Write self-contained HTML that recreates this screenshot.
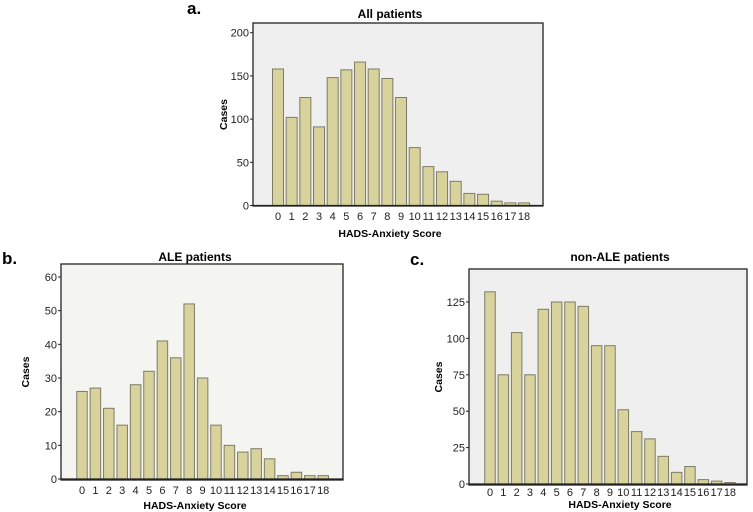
<!DOCTYPE html>
<html><head><meta charset="utf-8"><style>
body{margin:0;background:#fff;width:753px;height:512px;overflow:hidden;font-family:"Liberation Sans",Arial,sans-serif}
svg{position:absolute;left:0;top:0}
</style></head><body>
<svg id="s" width="753" height="512" xmlns="http://www.w3.org/2000/svg"></svg>
<script>
const categories=["0","1","2","3","4","5","6","7","8","9","10","11","12","13","14","15","16","17","18"];
const allValues=[158,102,125,91,148,157,166,158,147,125,67,45,39,28,14,13,5,3,3];
const aleValues=[26,27,21,16,28,32,41,36,52,30,16,10,8,9,6,1,2,1,1];
const nonAleValues=[132,75,104,75,120,125,125,122,95,95,51,36,31,19,8,12,3,2,1];
const allTicks=[0,50,100,150,200];
const aleTicks=[0,10,20,30,40,50,60];
const nonAleTicks=[0,25,50,75,100,125];
const NS="http://www.w3.org/2000/svg";
const svg=document.getElementById('s');
function mk(tag,attrs,parent){const e=document.createElementNS(NS,tag);for(const k in attrs)e.setAttribute(k,attrs[k]);(parent||svg).appendChild(e);return e;}
function txt(str,attrs,parent){const t=mk('text',attrs,parent);t.textContent=str;return t;}
function chart(o){
  const g=mk('g',{});
  
  
  const y=v=>o.y0-(v-0)*(o.y0-o.yRefPx)/o.yRef;
  const x=i=>o.x0+i*o.dx;
  const bg=mk('rect',{x:o.L,y:o.T,width:o.R-o.L,height:o.B-o.T,fill:o.bg,stroke:'#222','stroke-width':1.3},g);
  
  
  o.vals.forEach((v,i)=>{
    const r=mk('rect',{x:x(i)-o.bw/2,y:y(v),width:o.bw,height:o.y0-y(v),fill:'#d8d29c',stroke:'#7e7c66','stroke-width':1},g);
    
    
    const t=txt(categories[i],{x:x(i),y:o.xLabY,'font-size':11,'text-anchor':'middle',fill:'#222'},g);
    
    
  });
  mk('line',{x1:o.L,y1:o.y0,x2:o.R,y2:o.y0,stroke:'#222','stroke-width':1.3},g);
  o.ticks.forEach(v=>{
    mk('line',{x1:o.L-3,y1:y(v),x2:o.L,y2:y(v),stroke:'#222'},g);
    const t=txt(String(v),{x:o.L-4,y:y(v)+4,'font-size':11,'text-anchor':'end',fill:'#222'},g);
    
    
  });
  const ti=txt(o.title,{x:o.tx,y:o.ty,'font-size':12,'font-weight':'bold','text-anchor':'middle'},g);
  
  
  const xt=txt('HADS-Anxiety Score',{x:o.xtx,y:o.xty,'font-size':10.5,'font-weight':'bold','text-anchor':'middle'},g);
  
  
  const yt=txt('Cases',{x:0,y:0,'font-size':10.5,'font-weight':'bold','text-anchor':'middle',transform:`translate(${o.ytx},${(o.T+o.B)/2}) rotate(-90)`},g);
  
  
  const p=txt(o.panel,{x:o.px,y:o.py,'font-size':17,'font-weight':'bold'},g);
  
  
}
chart({name:'chart-all-patients',vals:allValues,ticks:allTicks,L:253,R:543,T:23,B:206,y0:205.5,yRef:200,yRefPx:32.7,x0:278,dx:13.67,bw:11,bg:'#efefef',xLabY:220,title:'All patients',tx:390,ty:18,xtx:390,xty:237,ytx:227,panel:'a.',px:187,py:14});
chart({name:'chart-ale-patients',vals:aleValues,ticks:aleTicks,L:61,R:343,T:264,B:480,y0:479,yRef:60,yRefPx:277,x0:82,dx:13.4,bw:10.5,bg:'#f4f4f1',xLabY:494,title:'ALE patients',tx:195,ty:261,xtx:195,xty:509,ytx:29,panel:'b.',px:2,py:264});
chart({name:'chart-non-ale-patients',vals:nonAleValues,ticks:nonAleTicks,L:469,R:747,T:269,B:485,y0:484,yRef:125,yRefPx:302,x0:490,dx:13.33,bw:10.5,bg:'#efefef',xLabY:496,title:'non-ALE patients',tx:620,ty:261,xtx:620,xty:508,ytx:442,panel:'c.',px:410,py:265});
</script>
</body></html>
